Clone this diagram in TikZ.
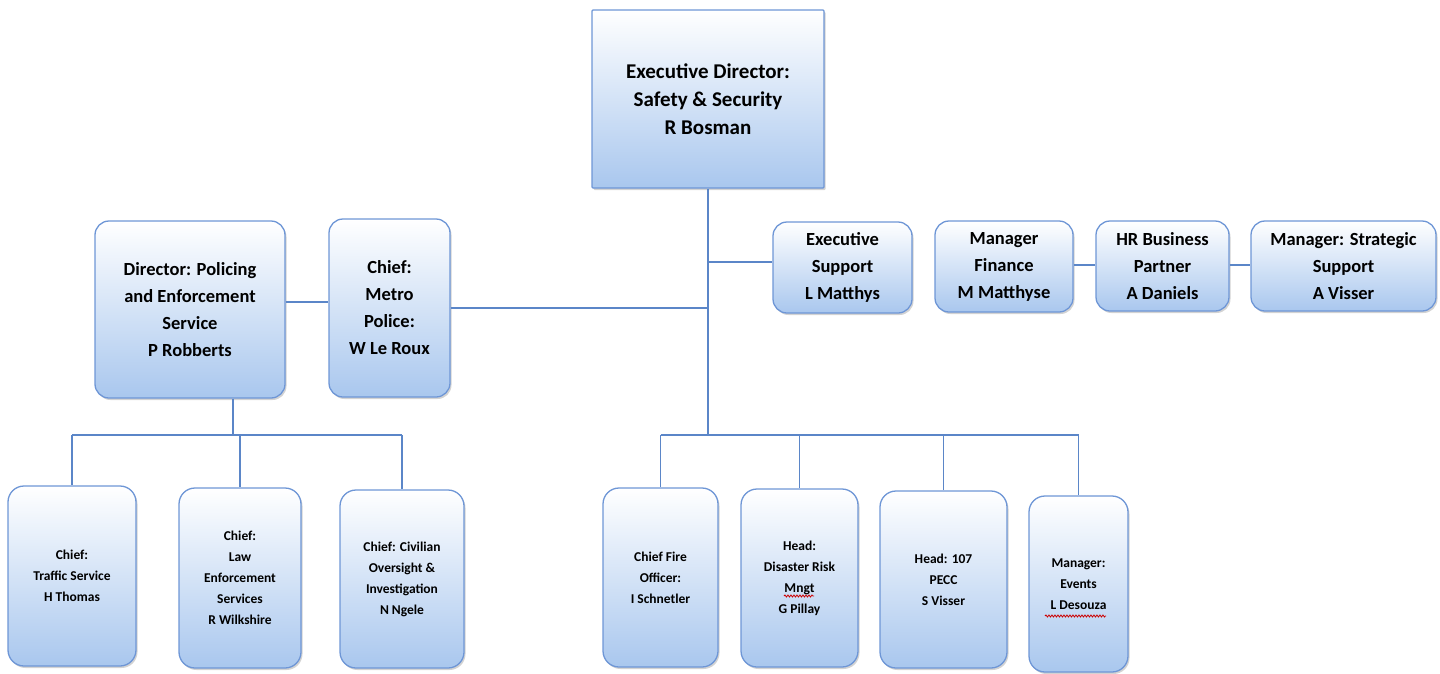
\documentclass[tikz,border=0pt]{standalone}
\usepackage{fontspec}
\setmainfont{Carlito}
\usetikzlibrary{shadows,decorations.pathmorphing}
\definecolor{boxblue}{HTML}{A9C7EE}
\definecolor{edgeblue}{HTML}{6E96D6}
\definecolor{linkblue}{HTML}{5B86C8}
\tikzset{
  orgbox/.style={draw=edgeblue, line width=1.3pt, rounded corners=14pt,
    top color=white, bottom color=boxblue, align=center, inner sep=2pt,
    drop shadow={opacity=0.35, shadow xshift=1.5pt, shadow yshift=-2pt}},
  topbox/.style={orgbox, rounded corners=1pt, font=\fontsize{21}{28}\selectfont\bfseries},
  midbox/.style={orgbox, font=\fontsize{18.5}{27}\selectfont\bfseries},
  lowbox/.style={orgbox, rounded corners=16pt, font=\fontsize{13.5}{21}\selectfont\bfseries},
  link/.style={draw=linkblue, line width=1.3pt},
  spell/.style={draw=red!80!black, line width=0.8pt, decorate,
    decoration={snake, amplitude=1pt, segment length=3pt}}
}
\begin{document}
\begin{tikzpicture}[x=1pt,y=-1pt]
\useasboundingbox (0,0) rectangle (1440,673);
% top
\node[topbox, minimum width=232, minimum height=178] (ed) at (708,99)
  {Executive Director:\\Safety \& Security\\R Bosman};
% middle row
\node[midbox, minimum width=190, minimum height=177] (pol) at (190,309.5)
  {Director: Policing\\and Enforcement\\Service\\P Robberts};
\node[midbox, minimum width=121, minimum height=178] (metro) at (389.5,308)
  {Chief:\\Metro\\Police:\\W Le Roux};
\node[midbox, minimum width=139, minimum height=91] (exs) at (842.5,267.5)
  {Executive\\Support\\L Matthys};
\node[midbox, minimum width=138, minimum height=91] (fin) at (1004,266.5)
  {Manager\\Finance\\M Matthyse};
\node[midbox, minimum width=133, minimum height=90] (hr) at (1162.5,266)
  {HR Business\\Partner\\A Daniels};
\node[midbox, minimum width=185, minimum height=90] (str) at (1343.5,266)
  {Manager: Strategic\\Support\\A Visser};
% bottom left
\node[lowbox, minimum width=128, minimum height=180] (trf) at (72,576)
  {Chief:\\Traffic Service\\H Thomas};
\node[lowbox, minimum width=122, minimum height=180] (law) at (240,578)
  {Chief:\\Law\\Enforcement\\Services\\R Wilkshire};
\node[lowbox, minimum width=124, minimum height=178] (civ) at (402,579)
  {Chief: Civilian\\Oversight \&\\Investigation\\N Ngele};
% bottom right
\node[lowbox, minimum width=115, minimum height=179] (fire) at (660.5,577.5)
  {Chief Fire\\Officer:\\I Schnetler};
\node[lowbox, minimum width=117, minimum height=178] (dis) at (799.5,578)
  {Head:\\Disaster Risk\\Mngt\\G Pillay};
\node[lowbox, minimum width=127, minimum height=177] (pecc) at (943.5,579.5)
  {Head: 107\\PECC\\S Visser};
\node[lowbox, minimum width=99, minimum height=176] (evt) at (1078.5,584)
  {Manager:\\Events\\L Desouza};
% spell-check marks
\draw[spell] (784,596) -- (814,596);
\draw[spell] (1045,616) -- (1106,616);
% junction coordinates
\coordinate (tA) at (708,262);
\coordinate (tB) at (708,308);
\coordinate (tC) at (708,435);
\coordinate (pC) at (233,435);
% connectors
\draw[link] (ed.south) -- (tC);
\draw[link] (tA) -- (exs.west |- tA);
\draw[link] (metro.east |- tB) -- (tB);
\draw[link] (pol.east |- 0,302) -- (metro.west |- 0,302);
\draw[link] (fin.east |- 0,265) -- (hr.west |- 0,265);
\draw[link] (hr.east |- 0,265) -- (str.west |- 0,265);
\draw[link] (fire.north |- tC) -- (evt.north |- tC);
\draw[link] (fire.north |- tC) -- (fire.north);
\draw[link] (dis.north |- tC) -- (dis.north);
\draw[link] (pecc.north |- tC) -- (pecc.north);
\draw[link] (evt.north |- tC) -- (evt.north);
\draw[link] (pol.south -| pC) -- (pC);
\draw[link] (trf.north |- pC) -- (civ.north |- pC);
\draw[link] (trf.north |- pC) -- (trf.north);
\draw[link] (law.north |- pC) -- (law.north);
\draw[link] (civ.north |- pC) -- (civ.north);
\end{tikzpicture}
\end{document}
